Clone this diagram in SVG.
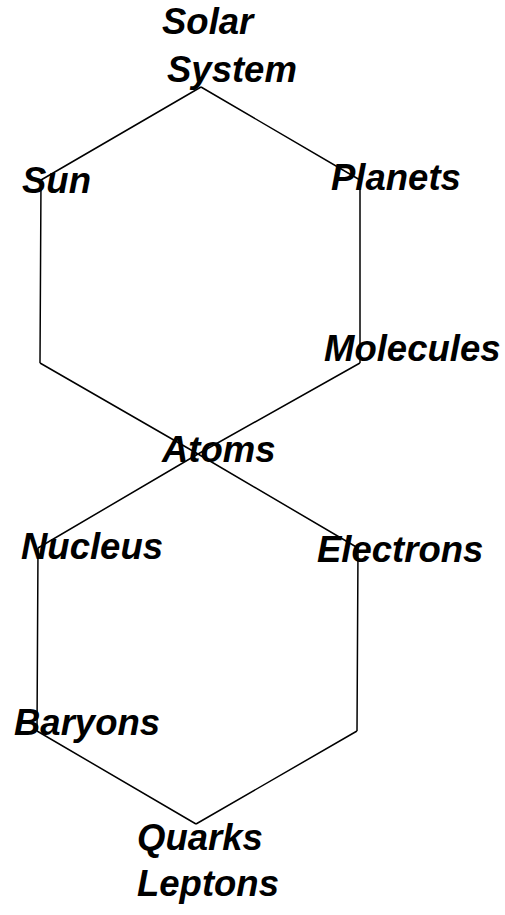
<svg xmlns="http://www.w3.org/2000/svg" width="505" height="915" viewBox="0 0 505 915">
<style>
.edge{stroke:#000;stroke-width:1.5;fill:none}
.lbl{font-family:"Liberation Sans",Arial,sans-serif;font-weight:bold;font-style:italic;font-size:36.5px;fill:#000}
</style>
<rect width="505" height="915" fill="#fff"/>
<g id="connectors">
<path class="edge" d="M201,87 L360,180 M201,87 L41,180 M41,180 L40,363 M360,180 L360,363 M40,363 L198,454 M360,363 L198,454"/>
<path class="edge" d="M198,454 L38,548 M198,454 L358,548 M38,548 L37,731 M358,548 L357,731 M37,731 L196,824 M357,731 L196,824"/>
</g>
<g id="solar-system"><text class="lbl" x="162" y="34">Solar</text><text class="lbl" x="167" y="82">System</text></g>
<g id="sun"><text class="lbl" x="22" y="193">Sun</text></g>
<g id="planets"><text class="lbl" x="331" y="190">Planets</text></g>
<g id="molecules"><text class="lbl" x="324" y="361">Molecules</text></g>
<g id="atoms"><text class="lbl" x="162" y="462">Atoms</text></g>
<g id="nucleus"><text class="lbl" x="21" y="559">Nucleus</text></g>
<g id="electrons"><text class="lbl" x="317" y="562">Electrons</text></g>
<g id="baryons"><text class="lbl" x="14" y="735">Baryons</text></g>
<g id="quarks-leptons"><text class="lbl" x="137" y="850">Quarks</text><text class="lbl" x="137" y="896">Leptons</text></g>
</svg>
